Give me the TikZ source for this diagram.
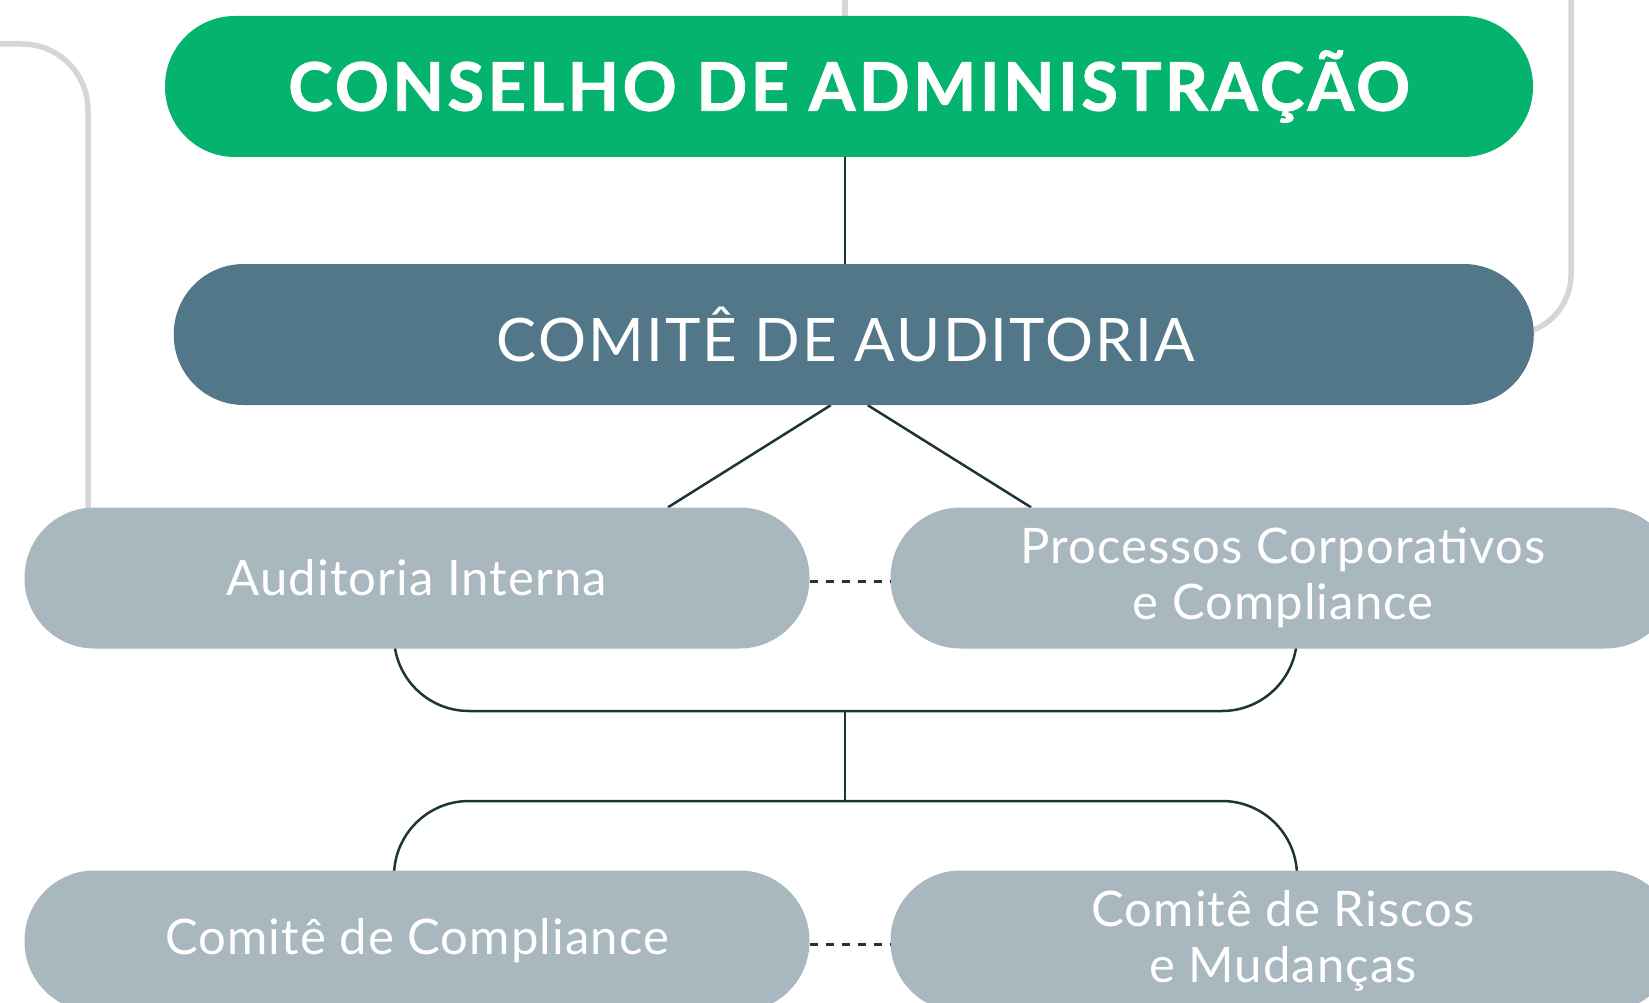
\documentclass[tikz,border=0pt]{standalone}
\usepackage{fontspec}
\setmainfont{Lato}
\usetikzlibrary{calc,backgrounds}

\definecolor{verde}{HTML}{04B36D}
\definecolor{azul}{HTML}{527789}
\definecolor{cinza}{HTML}{A9B7BE}
\definecolor{traco}{HTML}{1E3538}
\definecolor{guia}{HTML}{D9D5D5}

\tikzset{
  caixa/.style={rectangle, rounded corners=70pt, minimum height=141pt,
    inner sep=0pt, text=white, align=center},
  topo/.style={caixa, fill=verde, minimum width=1368pt,
    font=\fontsize{67}{70}\selectfont\bfseries\addfontfeature{FakeBold=1.2,LetterSpace=5}},
  comite/.style={caixa, fill=azul, minimum width=1360pt,
    font=\fontsize{60}{66}\selectfont\addfontfeature{LetterSpace=3.6}},
  area/.style={caixa, fill=cinza, minimum width=785pt,
    font=\fontsize{49}{56}\selectfont\addfontfeature{LetterSpace=2.2}},
  ligacao/.style={draw=traco, line width=2.5pt},
  pontilhado/.style={draw=traco, line width=3pt, dash pattern=on 8pt off 8pt},
  guialinha/.style={draw=guia, line width=5.5pt},
}

\begin{document}
\begin{tikzpicture}[x=1pt, y=-1pt]
\useasboundingbox (0,0) rectangle (1649,1003);
\clip (0,0) rectangle (1649,1003);

% caixas
\node[topo] (conselho) at (849,86.5) {CONSELHO DE ADMINISTRAÇÃO};
\node[comite] (auditoria) at (853.75,334.5) {COMITÊ DE AUDITORIA\hspace*{16pt}};
\node[area] (interna) at (417,578) {Auditoria Interna};
\node[area] (processos) at (1283,578) {Processos Corporativos\\e Compliance};
\node[area] (compliance) at (417,941) {Comitê de Compliance};
\node[area] (riscos) at (1283,941) {Comitê de Riscos\\e Mudanças};

\coordinate (eixo) at (845,0);
\coordinate (guiaesq) at (0,44);
\coordinate (guiadir) at (1571,0);
\coordinate (uniao) at (845,711);
\coordinate (uniao2) at (845,801);

\begin{scope}[on background layer]
% linhas cinza
\draw[guialinha] (eixo) -- (eixo |- conselho.center);
\draw[guialinha, rounded corners=66pt] (guiaesq) -| ($(interna.center)+(-329,0)$);
\draw[guialinha, rounded corners=60pt] (guiadir) |- (auditoria.center);

% ligacoes
\draw[ligacao] (eixo |- conselho.south) -- (eixo |- auditoria.north);
\draw[ligacao] ($(auditoria.south)+(-23,0)$) -- ($(interna.north)+(251,0)$);
\draw[ligacao] ($(auditoria.south)+(14,0)$) -- ($(processos.north)+(-252,0)$);
\draw[ligacao, rounded corners=75pt] ($(interna.center)+(-23,0)$) |- (uniao) -| ($(processos.center)+(14,0)$);
\draw[ligacao] (uniao) -- (uniao2);
\draw[ligacao, rounded corners=75pt] ($(compliance.center)+(-23,0)$) |- (uniao2) -| ($(riscos.center)+(14,0)$);
\end{scope}

\draw[pontilhado] ($(interna.east)+(0,3)$) -- ($(processos.west)+(0,3)$);
\draw[pontilhado] ($(compliance.east)+(0,3)$) -- ($(riscos.west)+(0,3)$);

\end{tikzpicture}
\end{document}
